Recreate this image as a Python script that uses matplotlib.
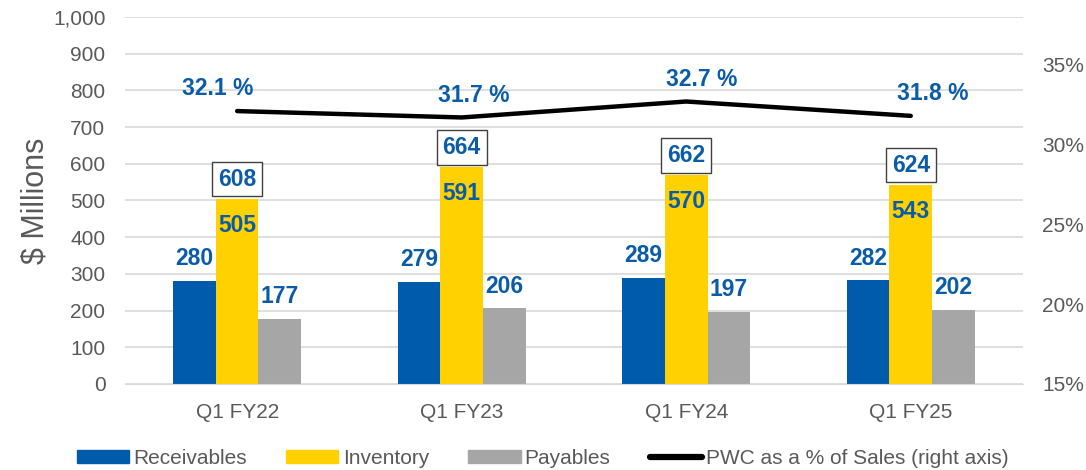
import numpy as np
from matplotlib import pyplot as plt
from matplotlib.lines import Line2D
from matplotlib.patches import Patch

quarters = ['Q1 FY22', 'Q1 FY23', 'Q1 FY24', 'Q1 FY25']
receivables = [280, 279, 289, 282]
inventory = [505, 591, 570, 543]
payables = [177, 206, 197, 202]
totals = [608, 664, 662, 624]
pwc_pct = [32.1, 31.7, 32.7, 31.8]
pct_dx = [-14, 9, 11, 16]  # label offsets in points

blue = '#005BAC'
yellow = '#FFD100'
grey = '#A6A6A6'
lab = '#0A5CA8'
tick_c = '#595959'

plt.rcParams['font.family'] = ['Liberation Sans', 'DejaVu Sans']

fig = plt.figure(figsize=(10.86, 4.70), dpi=100)
ax = fig.add_axes([0.115, 0.183, 0.827, 0.781])
ax2 = ax.twinx()

x = np.arange(len(quarters))
w = 0.19
ax.bar(x - w, receivables, w, color=blue, zorder=2)
ax.bar(x, inventory, w, color=yellow, zorder=2)
ax.bar(x + w, payables, w, color=grey, zorder=2)

ax.set_xlim(-0.5, 3.5)
ax.set_ylim(0, 1000)
ax.set_yticks(range(0, 1001, 100))
ax.set_yticklabels([f'{v:,}' for v in range(0, 1001, 100)])
ax.grid(axis='y', color='#D9D9D9', lw=1.2, zorder=0)
ax.set_axisbelow(True)
for s in ax.spines.values():
    s.set_visible(False)
for s in ax2.spines.values():
    s.set_visible(False)
ax.spines['bottom'].set_visible(True)
ax.spines['bottom'].set_color('#D9D9D9')
ax.tick_params(axis='both', length=0, labelsize=15, colors=tick_c)
ax.tick_params(axis='y', pad=14)
ax.set_xticks(x)
ax.set_xticklabels(quarters)
ax.tick_params(axis='x', pad=14)
ax.set_ylabel('$ Millions', fontsize=22, color=tick_c, labelpad=2)

font = dict(fontsize=16.5, fontweight='bold', color=lab, ha='center', va='center')
for i in range(len(quarters)):
    ax.annotate(str(receivables[i]), (x[i] - w, receivables[i]), xytext=(0, 16),
                textcoords='offset points', **font)
    ax.annotate(str(payables[i]), (x[i] + w, payables[i]), xytext=(0, 16),
                textcoords='offset points', **font)
    ax.annotate(str(inventory[i]), (x[i], inventory[i]), xytext=(0, -19),
                textcoords='offset points', **font)
    ax.annotate(str(totals[i]), (x[i], inventory[i]), xytext=(0, 14),
                textcoords='offset points',
                bbox=dict(boxstyle='square,pad=0.25', fc='white', ec='#404040', lw=1),
                **font)

ax2.plot(x, pwc_pct, color='black', lw=3.2, solid_capstyle='round', zorder=3)
ax2.set_ylim(15, 38)
ax2.set_yticks([15, 20, 25, 30, 35])
ax2.set_yticklabels(['15%', '20%', '25%', '30%', '35%'])
ax2.tick_params(axis='y', length=0, labelsize=15, colors=tick_c, pad=14)
for i in range(len(quarters)):
    ax2.annotate(f'{pwc_pct[i]} %', (x[i], pwc_pct[i]), xytext=(pct_dx[i], 16),
                 textcoords='offset points', **font)

handles = [Patch(color=blue), Patch(color=yellow), Patch(color=grey),
           Line2D([], [], color='black', lw=4.5, solid_capstyle='round')]
names = ['Receivables', 'Inventory', 'Payables', 'PWC as a % of Sales (right axis)']
leg = fig.legend(handles, names, loc='center', bbox_to_anchor=(0.5, 0.025), ncol=4,
                 frameon=False, handlelength=2.5, handleheight=0.55,
                 handletextpad=0.2, columnspacing=1.9,
                 prop={'family': 'Liberation Sans', 'size': 15})
for t in leg.get_texts():
    t.set_color(tick_c)

fig.savefig('out.png', dpi=100)
